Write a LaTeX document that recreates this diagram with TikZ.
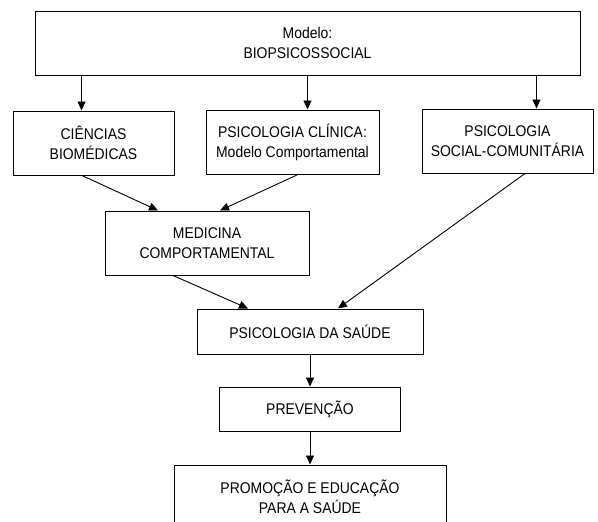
\documentclass[tikz,border=0pt]{standalone}
\usepackage{fontspec}
\setmainfont{Liberation Sans}[FakeStretch=0.9]
\usetikzlibrary{arrows.meta,positioning}

\begin{document}
\begin{tikzpicture}[x=1pt, y=-1pt,
  box/.style={draw, line width=1pt, align=center, inner sep=0pt, font=\fontsize{15.5}{20}\selectfont},
  arr/.style={-{Triangle[length=9pt,width=8pt]}, line width=0.9pt}]

\clip (0,0) rectangle (598,522);

\node[box, minimum width=545pt, minimum height=64pt] (modelo) at (307.5,43) {Modelo:\\BIOPSICOSSOCIAL};

\node[box, minimum width=161pt, minimum height=64pt] (cien) at (93.5,143) {CIÊNCIAS\\BIOMÉDICAS};
\node[box, minimum width=173pt, minimum height=64pt] (clin) at (292.5,142) {PSICOLOGIA CLÍNICA:\\Modelo Comportamental};
\node[box, minimum width=171pt, minimum height=64pt] (soc) at (507.5,141) {PSICOLOGIA\\SOCIAL-COMUNITÁRIA};

\node[box, minimum width=204pt, minimum height=64pt] (med) at (207,243) {MEDICINA\\COMPORTAMENTAL};
\node[box, minimum width=226pt, minimum height=45pt] (saude) at (310,331.5) {PSICOLOGIA DA SAÚDE};
\node[box, minimum width=181pt, minimum height=44pt, below=32pt of saude] (prev) {PREVENÇÃO};
\node[box, minimum width=272pt, minimum height=64pt, below=33pt of prev] (promo) {PROMOÇÃO E EDUCAÇÃO\\PARA A SAÚDE};

\draw[arr] ([xshift=47pt]modelo.south west) -- ([xshift=47pt]modelo.south west |- cien.north);
\draw[arr] (modelo.south) -- (modelo.south |- clin.north);
\draw[arr] ([xshift=-44pt]modelo.south east) -- ([xshift=-44pt]modelo.south east |- soc.north);

\draw[arr] ([xshift=-11.5pt]cien.south) -- ([xshift=-49pt]med.north);
\draw[arr] ([xshift=5.5pt]clin.south) -- ([xshift=13pt]med.north);
\draw[arr] ([xshift=-34pt]med.south) -- ([xshift=-62pt]saude.north);
\draw[arr] ([xshift=17.5pt]soc.south) -- ([xshift=28pt]saude.north);
\draw[arr] (saude) -- (prev);
\draw[arr] (prev) -- (promo);
\end{tikzpicture}
\end{document}
